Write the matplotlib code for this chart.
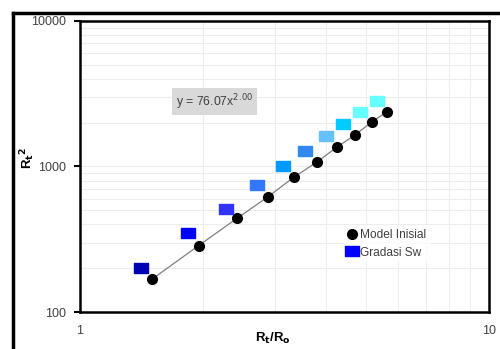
import matplotlib
matplotlib.use("Agg")
import matplotlib.pyplot as plt
from matplotlib.lines import Line2D
from matplotlib.ticker import LogLocator, NullFormatter, FixedLocator

plt.rcParams['font.family'] = ['Liberation Sans', 'DejaVu Sans']

# Data
x_model = [1.50, 1.95, 2.42, 2.88, 3.34, 3.80, 4.25, 4.70, 5.17, 5.63]
y_model = [168, 286, 440, 618, 848, 1075, 1360, 1645, 2020, 2380]

x_sw = [1.41, 1.84, 2.27, 2.71, 3.14, 3.55, 3.99, 4.40, 4.84, 5.32]
y_sw = [201, 349, 511, 746, 1007, 1278, 1622, 1961, 2372, 2819]
sw_colors = ['#0000B4', '#0000FF', '#3333FF', '#3377FF', '#0099FF',
             '#3388EE', '#66C2FF', '#00CCFF', '#66FFFF', '#66FFFF']

y_ticks = [100, 1000, 10000]
y_ticklabels = ['100', '1000', '10000']
x_ticks = [1, 10]
x_ticklabels = ['1', '10']
equation = r'y = 76.07x$^{2.00}$'

fig = plt.figure(figsize=(5.0, 3.49), dpi=100)
ax = fig.add_axes([0.16, 0.106, 0.818, 0.834])
ax.set_xscale('log')
ax.set_yscale('log')
ax.set_xlim(1, 10)
ax.set_ylim(100, 10000)

# grid
ax.xaxis.set_minor_locator(LogLocator(base=10, subs=range(2, 10)))
ax.yaxis.set_minor_locator(LogLocator(base=10, subs=range(2, 10)))
ax.xaxis.set_minor_formatter(NullFormatter())
ax.yaxis.set_minor_formatter(NullFormatter())
ax.grid(True, which='both', color='#EDEDED', lw=0.8)
ax.set_axisbelow(True)
ax.tick_params(which='minor', length=0)

ax.yaxis.set_major_locator(FixedLocator(y_ticks))
ax.set_yticklabels(y_ticklabels)
ax.xaxis.set_major_locator(FixedLocator(x_ticks))
ax.set_xticklabels(x_ticklabels)
ax.tick_params(which='major', direction='out', length=4, width=1.5,
               labelsize=9, colors='black', labelcolor='#404040', pad=6)
ax.tick_params(axis='x', which='major', length=0, pad=9)

for s in ax.spines.values():
    s.set_color('black')
    s.set_linewidth(1.8)

# trend line + model points
ax.plot(x_model, y_model, color='#7F7F7F', lw=0.9, zorder=2)
ax.plot(x_model, y_model, 'o', color='black', ms=7, zorder=3,
        linestyle='none')

rect = [(-1, -0.78), (1, -0.78), (1, 0.78), (-1, 0.78), (-1, -0.78)]
for xi, yi, c in zip(x_sw, y_sw, sw_colors):
    ax.plot([xi], [yi], marker=rect, color=c, ms=10, linestyle='none',
            zorder=3)

# equation label
ax.text(0.235, 0.722, equation, transform=ax.transAxes, fontsize=8.8,
        color='#404040', va='center', ha='left',
        bbox=dict(boxstyle='square,pad=0.3', fc='#D9D9D9', ec='none'))

# legend
handles = [Line2D([], [], marker='o', color='black', ms=7, linestyle='none'),
           Line2D([], [], marker=rect, color='#0000FF', ms=10, linestyle='none')]
leg = ax.legend(handles, ['Model Inisial', 'Gradasi Sw'],
                loc='center left', bbox_to_anchor=(0.63, 0.234),
                frameon=True, fontsize=8.6, handlelength=0.8,
                handletextpad=0.3, labelspacing=0.45, borderpad=0.3)
leg.get_frame().set_facecolor('white')
leg.get_frame().set_edgecolor('none')
for t in leg.get_texts():
    t.set_color('#404040')

# axis labels
fig.text(0.055, 0.548, r'R$_\mathbf{t}$$^\mathbf{2}$', rotation=90,
         fontsize=9.5, fontweight='bold', ha='center', va='center')
fig.text(0.545, 0.03, r'R$_\mathbf{t}$/R$_\mathbf{o}$', fontsize=9.5,
         fontweight='bold', ha='center', va='center')

# outer frame
fig.add_artist(Line2D([0.026, 1.0], [1 - 13 / 349, 1 - 13 / 349],
                      transform=fig.transFigure, color='black', lw=2.5))
fig.add_artist(Line2D([0.026, 0.026], [0.0, 1 - 13 / 349],
                      transform=fig.transFigure, color='black', lw=2.5))

fig.savefig('out.png', dpi=100)
